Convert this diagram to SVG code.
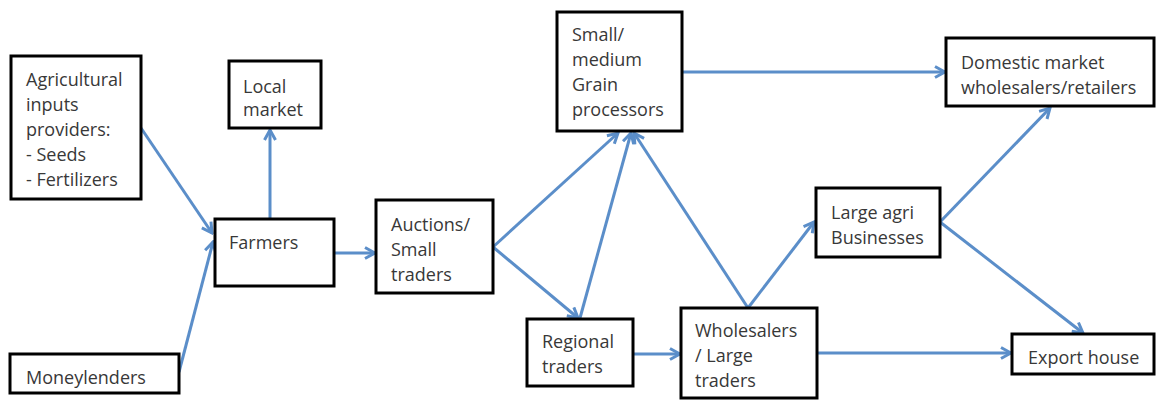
<svg xmlns="http://www.w3.org/2000/svg" width="1156" height="400" viewBox="0 0 1156 400">
<defs>
<style>
.box{fill:#fff;stroke:#000;stroke-width:3}
.t{font-family:"Open Sans","Liberation Sans",sans-serif;font-size:18px;fill:#383838}
.c{fill:none;stroke:#5b8ec9;stroke-width:3;marker-end:url(#ah)}
</style>
<marker id="ah" viewBox="0 0 14 14" refX="12" refY="7" markerWidth="14" markerHeight="14" markerUnits="userSpaceOnUse" orient="auto">
<path d="M2,1.5 L12,7 L2,12.5" fill="none" stroke="#5b8ec9" stroke-width="3" stroke-linejoin="miter"/>
</marker>
</defs>
<rect width="1156" height="400" fill="#fff"/>
<g id="connectors">
<line class="c" x1="141" y1="128" x2="212" y2="233"/>
<line class="c" x1="179" y1="372" x2="213" y2="242"/>
<line class="c" x1="270" y1="219" x2="270" y2="130"/>
<line class="c" x1="334" y1="253" x2="375" y2="253"/>
<line class="c" x1="493" y1="247" x2="618" y2="133"/>
<line class="c" x1="493" y1="247" x2="578" y2="318"/>
<line class="c" x1="580" y1="318" x2="631" y2="133"/>
<line class="c" x1="748" y1="308" x2="634" y2="133"/>
<line class="c" x1="748" y1="308" x2="814" y2="222"/>
<line class="c" x1="633" y1="354" x2="680" y2="354"/>
<line class="c" x1="817" y1="353" x2="1011" y2="353"/>
<line class="c" x1="940" y1="222" x2="1050" y2="108"/>
<line class="c" x1="940" y1="222" x2="1083" y2="333"/>
<line class="c" x1="682" y1="72" x2="945" y2="72"/>
</g>
<g id="agri">
<rect class="box" x="11" y="56" width="130" height="143"/>
<text class="t" x="26" y="86">Agricultural</text>
<text class="t" x="26" y="111">inputs</text>
<text class="t" x="26" y="136">providers:</text>
<text class="t" x="26" y="161">- Seeds</text>
<text class="t" x="26" y="186">- Fertilizers</text>
</g>
<g id="local">
<rect class="box" x="229" y="61" width="92" height="67"/>
<text class="t" x="243" y="93">Local</text>
<text class="t" x="243" y="116">market</text>
</g>
<g id="farmers">
<rect class="box" x="215" y="219" width="119" height="67"/>
<text class="t" x="229" y="249">Farmers</text>
</g>
<g id="money">
<rect class="box" x="10" y="354" width="169" height="39"/>
<text class="t" x="26" y="384">Moneylenders</text>
</g>
<g id="auctions">
<rect class="box" x="376" y="200" width="117" height="93"/>
<text class="t" x="391" y="231">Auctions/</text>
<text class="t" x="391" y="256">Small</text>
<text class="t" x="391" y="281">traders</text>
</g>
<g id="grain">
<rect class="box" x="557" y="12" width="125" height="119"/>
<text class="t" x="572" y="41">Small/</text>
<text class="t" x="572" y="66">medium</text>
<text class="t" x="572" y="91">Grain</text>
<text class="t" x="572" y="116">processors</text>
</g>
<g id="regional">
<rect class="box" x="527" y="319" width="106" height="67"/>
<text class="t" x="542" y="348">Regional</text>
<text class="t" x="542" y="373">traders</text>
</g>
<g id="wholesalers">
<rect class="box" x="681" y="308" width="136" height="90"/>
<text class="t" x="695" y="337">Wholesalers</text>
<text class="t" x="695" y="362">/ Large</text>
<text class="t" x="695" y="387">traders</text>
</g>
<g id="largeagri">
<rect class="box" x="816" y="188" width="124" height="69"/>
<text class="t" x="831" y="219">Large agri</text>
<text class="t" x="831" y="244">Businesses</text>
</g>
<g id="export">
<rect class="box" x="1012" y="334" width="142" height="40"/>
<text class="t" x="1028" y="364">Export house</text>
</g>
<g id="domestic">
<rect class="box" x="946" y="38" width="208" height="68"/>
<text class="t" x="961" y="69">Domestic market</text>
<text class="t" x="961" y="94">wholesalers/retailers</text>
</g>
</svg>
